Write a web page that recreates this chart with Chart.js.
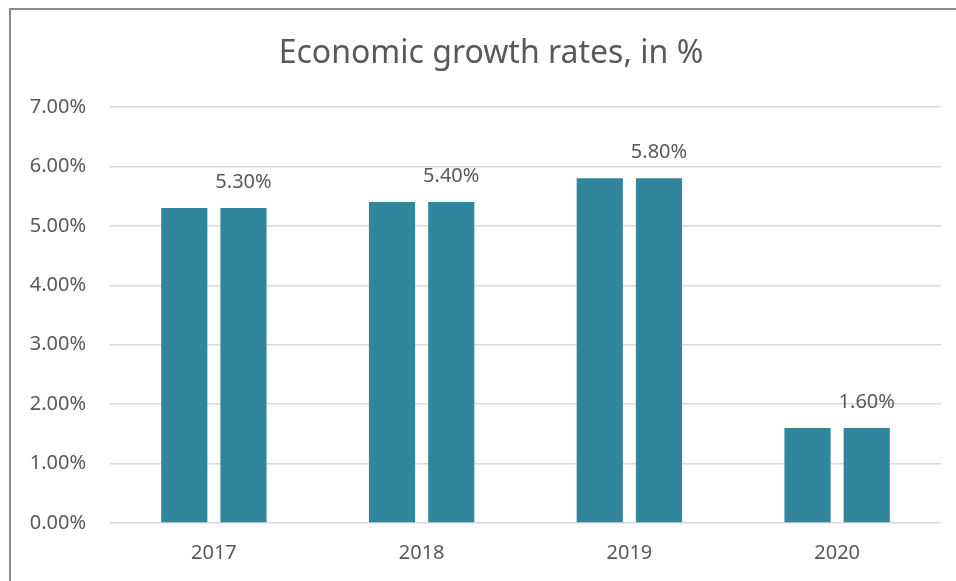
<!DOCTYPE html>
<html>
<head>
<meta charset="utf-8">
<script src="https://cdn.jsdelivr.net/npm/chart.js@4.4.0/dist/chart.umd.min.js"></script>
<style>
  html, body { margin: 0; padding: 0; background: #fff; overflow: hidden; }
  #frame { position: absolute; left: 9px; top: 8px; width: 1000px; height: 700px; border: 2px solid #8a8a8a; box-sizing: border-box; }
  #wrap { position: absolute; left: 0; top: 0; width: 956px; height: 581px; }
</style>
</head>
<body>
<div id="frame"></div>
<div id="wrap"><canvas id="chart"></canvas></div>
<script>
// Data
const years = ['2017', '2018', '2019', '2020'];
const growthA = [5.3, 5.4, 5.8, 1.6];
const growthB = [5.3, 5.4, 5.8, 1.6];
const yTicks = [0, 1, 2, 3, 4, 5, 6, 7];
const titleText = 'Economic growth rates, in %';

const textColor = '#595959';
const barColor = '#31859c';
const fontFamily = "'Noto Sans', 'Open Sans', sans-serif";

// Title centred over the chart frame (not the canvas)
const frameTitle = {
    id: 'frameTitle',
    afterDraw(chart) {
        const ctx = chart.ctx;
        ctx.save();
        ctx.font = '32px ' + fontFamily;
        ctx.fillStyle = textColor;
        ctx.textAlign = 'center';
        ctx.textBaseline = 'middle';
        ctx.fillText(titleText, 491, 54);
        ctx.restore();
    }
};

// Labels above the second bar of each pair
const barLabels = {
    id: 'barLabels',
    afterDatasetsDraw(chart) {
        const ctx = chart.ctx;
        const meta = chart.getDatasetMeta(1);
        ctx.save();
        ctx.font = '20px ' + fontFamily;
        ctx.fillStyle = textColor;
        ctx.textAlign = 'center';
        ctx.textBaseline = 'bottom';
        meta.data.forEach((bar, i) => {
            ctx.fillText(growthB[i].toFixed(2) + '%', bar.x, bar.y - 16);
        });
        ctx.restore();
    }
};

const chart = new Chart(document.getElementById('chart'), {
    type: 'bar',
    data: {
        labels: years,
        datasets: [
            { data: growthA, backgroundColor: barColor, categoryPercentage: 0.57, barPercentage: 0.78 },
            { data: growthB, backgroundColor: barColor, categoryPercentage: 0.57, barPercentage: 0.78 }
        ]
    },
    options: {
        responsive: true,
        maintainAspectRatio: false,
        animation: false,
        layout: { padding: { left: 0, right: 15, top: 107, bottom: 0 } },
        plugins: {
            legend: { display: false },
            tooltip: { enabled: false },
            title: { display: false }
        },
        scales: {
            x: {
                grid: { display: false, drawTicks: false },
                border: { display: false },
                ticks: { color: textColor, font: { family: fontFamily, size: 20 }, padding: 18 },
                afterFit(scale) { scale.height = 58; }
            },
            y: {
                min: 0,
                max: 7,
                afterBuildTicks(scale) { scale.ticks = yTicks.map(v => ({ value: v })); },
                grid: { color: '#d9d9d9', lineWidth: 1.5, drawTicks: false },
                border: { display: false },
                ticks: {
                    color: textColor,
                    font: { family: fontFamily, size: 20 },
                    padding: 24,
                    callback: v => v.toFixed(2) + '%'
                },
                afterFit(scale) { scale.width = 110; }
            }
        }
    },
    plugins: [barLabels, frameTitle]
});
</script>
</body>
</html>
